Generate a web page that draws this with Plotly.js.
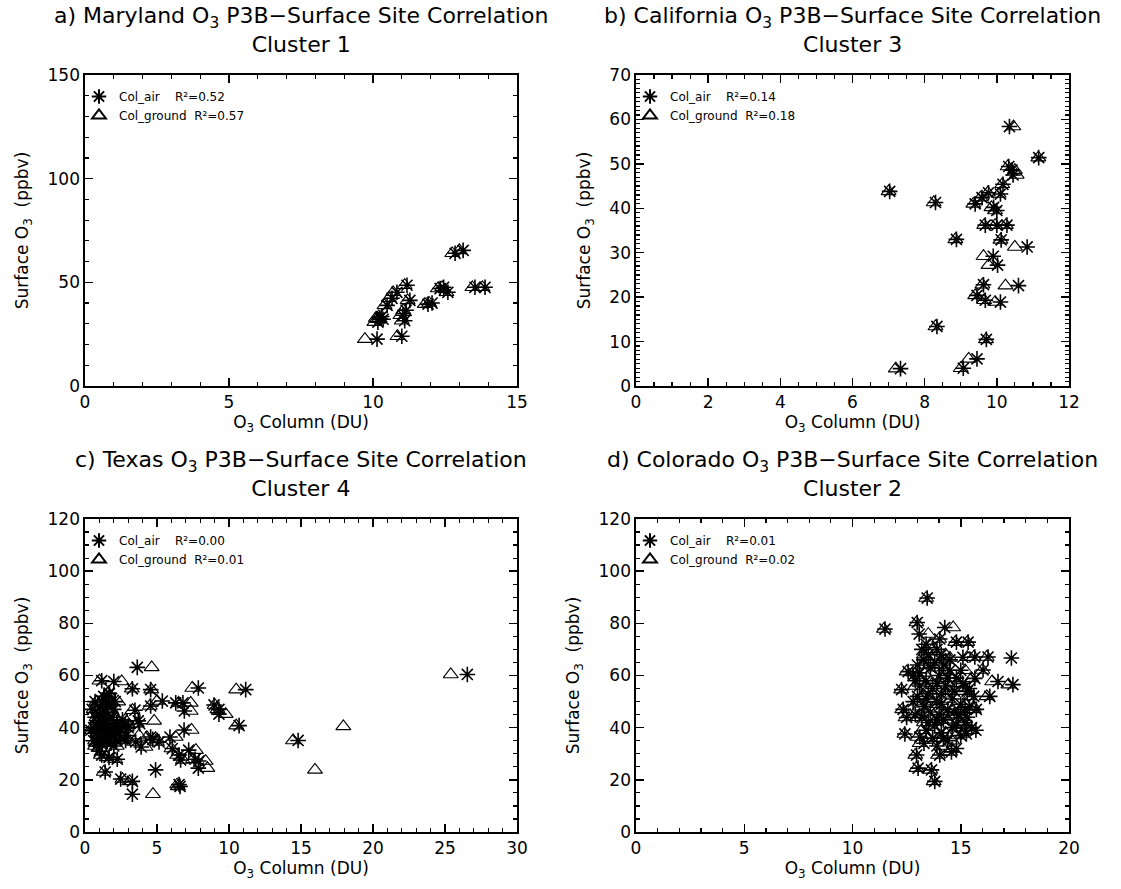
<!DOCTYPE html>
<html>
<head>
<meta charset="utf-8">
<script src="https://cdn.plot.ly/plotly-3.0.1.min.js"></script>
<style>html,body{margin:0;padding:0;background:#fff;}</style>
</head>
<body>
<div id="chart" style="width:1121px;height:889px;"></div>
<script>
// ---------- Panel a: Maryland, Cluster 1 ----------
const surfA = [22.6, 32.7, 30.8, 32.2, 33.5, 38.9, 42.3, 45.2, 48.6, 24.0, 34.1, 36.5, 41.3, 31.5, 39.5, 40.0, 47.0, 47.6, 45.2, 64.0, 65.4, 47.6, 47.6];
const airA  = [10.14, 10.24, 10.17, 10.35, 10.30, 10.49, 10.66, 10.83, 11.18, 11.00, 11.04, 11.15, 11.28, 11.10, 11.91, 12.05, 12.33, 12.45, 12.60, 12.85, 13.13, 13.54, 13.89];
const gndA  = [9.72, 10.10, 10.05, 10.20, 10.20, 10.40, 10.55, 10.70, 11.10, 10.85, 10.95, 11.05, 11.20, 11.00, 11.80, 11.95, 12.25, 12.40, 12.55, 12.75, 13.00, 13.45, 13.80];
const r2A = ["0.52", "0.57"];

// ---------- Panel b: California, Cluster 3 ----------
const surfB = [43.8, 41.3, 33.0, 13.4, 3.9, 4.0, 58.4, 51.4, 49.4, 48.6, 45.4, 43.2, 43.5, 42.4, 41.0, 40.2, 39.5, 36.2, 36.2, 36.2, 32.9, 31.3, 29.2, 27.2, 22.6, 22.8, 20.4, 19.3, 18.9, 10.5, 6.1, 47.5];
const airB  = [7.03, 8.30, 8.88, 8.34, 7.33, 9.07, 10.35, 11.16, 10.33, 10.42, 10.17, 10.10, 9.77, 9.59, 9.40, 9.91, 10.00, 9.68, 10.00, 10.28, 10.12, 10.84, 9.90, 10.02, 10.60, 9.63, 9.45, 9.68, 10.10, 9.71, 9.45, 10.45];
const gndB  = [7.00, 8.25, 8.85, 8.30, 7.20, 9.00, 10.46, 11.15, 10.30, 10.50, 10.15, 10.05, 9.75, 9.55, 9.35, 9.85, 9.95, 9.65, 9.95, 10.25, 10.10, 10.50, 9.63, 9.77, 10.24, 9.60, 9.40, 9.65, 9.95, 9.70, 9.22, 10.55];
const r2B = ["0.14", "0.18"];

// ---------- Panel c: Texas, Cluster 4 ----------
const surfC = [63.1, 58.0, 57.7, 54.9, 54.6, 55.2, 54.6, 53.3, 50.2, 49.5, 49.5, 46.4, 48.7, 47.0, 45.2, 46.7, 48.3, 42.6, 41.5, 40.8,
               39.1, 37.0, 35.1, 34.5, 36.4, 35.5, 34.5, 32.6, 36.4, 32.0, 29.5, 27.6, 27.9, 31.4, 24.5, 27.2, 20.3, 19.4, 23.8, 14.5,
               18.2, 17.5, 29.5, 28.6, 27.9, 35.1, 60.4, 40.5, 23.0,
               47, 44, 40, 38, 42, 45, 48, 50, 52, 46, 43, 41, 39, 37, 44, 47, 50, 42, 40, 38, 36, 36, 34, 38, 36, 34, 33, 39, 35, 33, 31, 50, 53, 41, 40, 37, 43, 41, 40, 35, 39, 49, 50, 44, 35];
const airC  = [3.63, 1.16, 2.00, 3.29, 4.56, 7.87, 11.16, 1.67, 5.37, 6.30, 6.80, 6.90, 8.96, 9.30, 9.30, 3.47, 4.56, 3.70, 3.80, 10.70,
               6.88, 2.90, 2.82, 3.52, 4.56, 4.70, 5.14, 3.90, 5.90, 6.06, 6.53, 6.64, 7.64, 7.20, 7.87, 7.90, 2.48, 3.29, 4.90, 3.29,
               6.53, 6.60, 1.16, 1.67, 2.24, 14.80, 26.55, 2.20, 1.40,
               0.5, 0.7, 0.6, 0.8, 0.9, 1.0, 1.1, 1.2, 1.3, 1.4, 1.5, 1.6, 1.7, 1.8, 1.9, 2.0, 2.1, 2.2, 2.3, 2.4, 2.5, 1.0, 1.2, 1.4, 1.6, 1.8, 2.0, 0.4, 0.6, 0.8, 1.0, 1.5, 1.7, 1.3, 1.1, 0.9, 2.6, 2.8, 3.0, 2.2, 1.9, 1.6, 0.7, 1.2, 1.5];
const gndC  = [4.63, 1.00, 2.55, 3.25, 4.60, 7.45, 10.50, 1.60, 5.00, 6.50, 7.34, 7.34, 9.00, 9.20, 9.77, 3.30, 4.50, 4.80, 3.60, 10.50,
               7.40, 3.75, 2.70, 3.40, 4.30, 5.00, 5.00, 4.20, 6.30, 6.00, 6.40, 6.80, 7.50, 7.70, 8.50, 8.38, 2.60, 3.10, 15.97, 4.72,
               6.40, 6.45, 1.10, 1.50, 2.10, 14.45, 25.40, 17.94, 1.30,
               0.6, 0.8, 0.5, 0.9, 1.1, 0.9, 1.3, 1.1, 1.4, 1.6, 1.4, 1.8, 1.5, 2.0, 2.1, 1.8, 2.3, 2.4, 2.1, 2.6, 2.3, 1.2, 1.0, 1.3, 1.7, 1.6, 2.2, 0.5, 0.7, 0.7, 1.2, 1.7, 1.6, 1.5, 0.9, 1.0, 2.8, 3.0, 2.9, 2.0, 1.7, 1.4, 0.8, 1.4, 1.3];
const r2C = ["0.00", "0.01"];

// ---------- Panel d: Colorado, Cluster 2 ----------
const surfD = [89.7, 77.8, 80.3, 75.9, 78.4, 74.0, 72.8, 72.8, 67.1, 67.1, 66.7, 62.1, 58.9, 57.7, 56.5, 52.0, 61.5, 54.6, 47.0, 43.9,
               37.6, 36.4, 29.5, 24.5, 23.8, 19.4, 29.5, 30.7, 37.6, 47.0,
               70, 68, 66, 65, 64, 63, 62, 61, 60, 59, 58, 57, 56, 55, 54, 53, 52, 51, 50, 49, 48, 47, 46, 45, 44, 43, 42, 41, 40, 39,
               38, 37, 36, 35, 58, 55, 52, 50, 48, 45, 42, 40, 62, 66, 68, 70, 72, 60, 56, 53, 49, 46, 44, 41, 39, 36, 33, 32, 34, 64,
               67, 59, 51, 47, 43, 57, 54, 45];
const airD  = [13.45, 11.50, 12.99, 13.08, 14.26, 14.03, 14.80, 15.34, 15.65, 16.26, 17.34, 16.03, 15.65, 16.72, 17.41, 16.34, 12.57, 12.27, 12.34, 12.50,
               12.42, 13.11, 12.96, 13.03, 13.65, 13.80, 14.03, 14.57, 15.26, 15.72,
               13.2, 13.5, 13.3, 13.8, 14.2, 13.6, 14.5, 13.1, 14.0, 14.8, 13.4, 15.1, 14.3, 13.7, 15.3, 14.1, 13.0, 14.6, 13.9, 15.0, 13.3, 14.4, 13.6, 14.9, 13.2, 14.2, 15.2, 13.8, 14.6, 13.4,
               14.1, 15.0, 13.7, 14.4, 12.9, 15.4, 15.6, 12.8, 15.4, 12.9, 13.5, 15.5, 15.0, 14.5, 14.1, 13.9, 13.4, 12.8, 13.1, 13.5, 14.1, 14.7, 15.3, 14.8, 15.7, 14.2, 13.9, 14.8, 13.3, 13.0,
               15.1, 14.4, 13.4, 15.2, 13.9, 13.9, 14.7, 14.0];
const gndD  = [13.40, 11.45, 12.95, 13.50, 14.65, 14.00, 14.75, 15.30, 15.60, 16.20, 14.50, 16.00, 15.50, 16.45, 17.20, 16.20, 12.50, 12.25, 12.30, 12.45,
               12.40, 13.00, 12.90, 12.95, 13.60, 13.75, 13.95, 14.50, 15.10, 15.60,
               13.4, 13.3, 13.5, 13.6, 14.0, 13.8, 14.3, 13.3, 14.2, 14.6, 13.2, 14.9, 14.5, 13.5, 15.1, 14.3, 13.2, 14.4, 13.7, 15.2, 13.1, 14.6, 13.4, 14.7, 13.0, 14.4, 15.0, 13.6, 14.8, 13.2,
               14.3, 14.8, 13.5, 14.6, 13.1, 15.2, 15.4, 13.0, 15.6, 13.1, 13.3, 15.3, 15.2, 14.3, 14.3, 13.7, 13.6, 13.0, 12.9, 13.7, 13.9, 14.9, 15.1, 15.0, 15.5, 14.0, 14.1, 14.6, 13.1, 13.2,
               15.3, 14.2, 13.6, 15.0, 14.1, 13.7, 14.5, 14.2];
const r2D = ["0.01", "0.02"];

// ---------- Titles and labels ----------
const panelTitles = [
  "a) Maryland O<sub>3</sub> P3B\u2212Surface Site Correlation<br>Cluster 1",
  "b) California O<sub>3</sub> P3B\u2212Surface Site Correlation<br>Cluster 3",
  "c) Texas O<sub>3</sub> P3B\u2212Surface Site Correlation<br>Cluster 4",
  "d) Colorado O<sub>3</sub> P3B\u2212Surface Site Correlation<br>Cluster 2"
];
const xTitle = "O<sub>3</sub> Column (DU)";
const yTitle = "Surface O<sub>3</sub>\u00a0\u00a0(ppbv)";
const airName = "Col_air";
const gndName = "Col_ground";

// ---------- Layout geometry (pixels) ----------
const W = 1121, H = 889;
const colL = [85, 517], colR = [636, 1069];
const rowT = [75, 386], rowB = [519, 832];
const fx = p => p / W, fy = p => 1 - p / H;

const panels = [
  {surf: surfA, air: airA, gnd: gndA, r2: r2A, xr: [0, 15], xd: 5, xm: 1, yr: [0, 150], yd: 50, ym: 10, col: colL, row: rowT},
  {surf: surfB, air: airB, gnd: gndB, r2: r2B, xr: [0, 12], xd: 2, xm: 0.5, yr: [0, 70], yd: 10, ym: 1, col: colR, row: rowT},
  {surf: surfC, air: airC, gnd: gndC, r2: r2C, xr: [0, 30], xd: 5, xm: 1, yr: [0, 120], yd: 20, ym: 5, col: colL, row: rowB},
  {surf: surfD, air: airD, gnd: gndD, r2: r2D, xr: [0, 20], xd: 5, xm: 1, yr: [0, 120], yd: 20, ym: 5, col: colR, row: rowB}
];

const FONT = "DejaVu Sans, Liberation Sans, Arial, sans-serif";
const traces = [];
const layout = {
  width: W, height: H,
  margin: {l: 0, r: 0, t: 0, b: 0},
  paper_bgcolor: "#ffffff", plot_bgcolor: "#ffffff",
  font: {family: FONT, color: "#000000", size: 17},
  showlegend: true,
  annotations: []
};

function axisBase(range, dtick, mdtick, domain, anchor, title, standoff) {
  return {
    domain: domain, anchor: anchor, range: range, autorange: false,
    tick0: 0, dtick: dtick, ticks: "inside", ticklen: 8, tickwidth: 1.5, tickcolor: "#000",
    minor: {dtick: mdtick, ticks: "inside", ticklen: 4, tickwidth: 1.2, tickcolor: "#000", showgrid: false},
    showline: true, linecolor: "#000", linewidth: 1.6, mirror: "allticks",
    showgrid: false, zeroline: false,
    tickfont: {family: FONT, size: 17, color: "#000"},
    title: {text: title, font: {family: FONT, size: 17, color: "#000"}, standoff: standoff}
  };
}

panels.forEach((p, i) => {
  const n = i === 0 ? "" : String(i + 1);
  const xa = "x" + n, ya = "y" + n;
  const lg = "legend" + n;
  layout["xaxis" + n] = axisBase(p.xr, p.xd, p.xm, [fx(p.col[0]), fx(p.col[1])], ya, xTitle, 0);
  layout["yaxis" + n] = axisBase(p.yr, p.yd, p.ym, [fy(p.row[1]), fy(p.row[0])], xa, yTitle, 14);
  layout[lg] = {
    x: fx(p.col[0] - 6), y: fy(p.row[0] + 7), xanchor: "left", yanchor: "top",
    bgcolor: "rgba(0,0,0,0)", borderwidth: 0,
    font: {family: FONT, size: 12, color: "#000"},
    tracegroupgap: 0, itemwidth: 30, itemsizing: "constant"
  };
  traces.push({
    type: "scatter", mode: "markers", x: p.gnd, y: p.surf, xaxis: xa, yaxis: ya,
    name: gndName + "\u00a0\u00a0R\u00b2=" + p.r2[1], legend: lg, legendrank: 2,
    marker: {symbol: "triangle-up-open", size: 13, color: "#000", line: {color: "#000", width: 1.1}},
    cliponaxis: true
  });
  traces.push({
    type: "scatter", mode: "markers", x: p.air, y: p.surf, xaxis: xa, yaxis: ya,
    name: airName + "\u00a0\u00a0\u00a0\u00a0R\u00b2=" + p.r2[0], legend: lg, legendrank: 1,
    marker: {symbol: "asterisk-open", size: 13, color: "#000", line: {color: "#000", width: 1.6}},
    cliponaxis: true
  });
  layout.annotations.push({
    xref: "paper", yref: "paper",
    x: fx((p.col[0] + p.col[1]) / 2), y: fy(p.row[0] - 16),
    xanchor: "center", yanchor: "bottom", align: "center", showarrow: false,
    text: panelTitles[i],
    font: {family: FONT, size: 22, color: "#000"}
  });
});

Plotly.newPlot("chart", traces, layout, {displayModeBar: false, staticPlot: true});
</script>
</body>
</html>
